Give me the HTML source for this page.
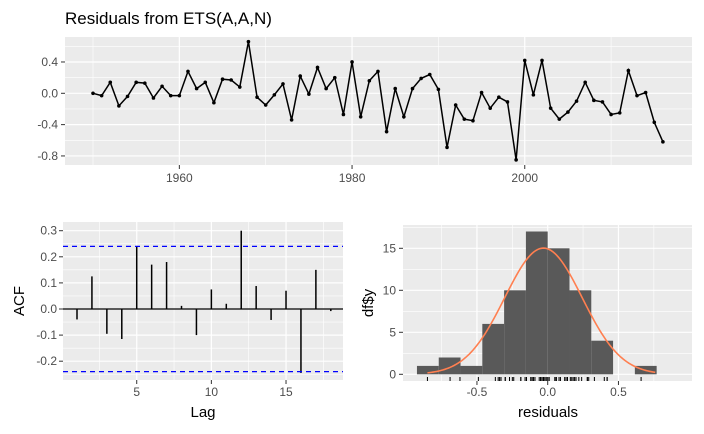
<!DOCTYPE html>
<html><head><meta charset="utf-8"><style>
html,body{margin:0;padding:0;background:#fff;}
svg{display:block;font-family:"Liberation Sans",sans-serif;}
</style></head><body>
<svg id="chart" width="704" height="434" viewBox="0 0 704 434">
<text x="65" y="24" font-size="17" fill="#000">Residuals from ETS(A,A,N)</text>
</svg>
<script>
const years = [];
for (let y = 1950; y <= 2016; y++) years.push(y);
const residuals = [0.0,-0.03,0.14,-0.16,-0.04,0.14,0.13,-0.06,0.09,-0.03,-0.03,0.28,0.06,0.14,-0.12,0.18,0.17,0.08,0.66,-0.05,-0.15,-0.02,0.12,-0.34,0.22,-0.01,0.33,0.06,0.20,-0.27,0.40,-0.30,0.16,0.28,-0.49,0.06,-0.30,0.06,0.19,0.24,0.05,-0.69,-0.15,-0.33,-0.35,0.01,-0.19,-0.05,-0.11,-0.85,0.42,-0.02,0.42,-0.19,-0.33,-0.24,-0.10,0.14,-0.09,-0.11,-0.27,-0.25,0.29,-0.03,0.01,-0.37,-0.62];
const topYTicks = [0.4,0.0,-0.4,-0.8];
const topXTicks = [1960,1980,2000];
const lags = [1,2,3,4,5,6,7,8,9,10,11,12,13,14,15,16,17,18];
const acfValues = [-0.04,0.125,-0.095,-0.115,0.24,0.17,0.18,0.012,-0.10,0.075,0.02,0.30,0.088,-0.042,0.07,-0.245,0.15,-0.008];
const acfCI = [0.24];
const acfYTicks = [0.3,0.2,0.1,0.0,-0.1,-0.2];
const acfXTicks = [5,10,15];
const binEdges = [-0.924,-0.770,-0.616,-0.462,-0.308,-0.154,0,0.154,0.308,0.462,0.616,0.770];
const binCounts = [1,2,1,6,10,17,15,10,4,0,1];
const normalParams = [-0.03,0.274];
const histYTicks = [0,5,10,15];
const histXTicks = [-0.5,0.0,0.5];

const svg = document.getElementById('chart');
const NS = 'http://www.w3.org/2000/svg';
function mk(tag, attrs, parent){
  const e = document.createElementNS(NS, tag);
  for (const k in attrs) e.setAttribute(k, attrs[k]);
  (parent||svg).appendChild(e);
  return e;
}
function txt(s, x, y, attrs, parent){
  const e = mk('text', Object.assign({x:x,y:y}, attrs), parent);
  e.textContent = s;
  return e;
}
const TICKC = '#4d4d4d';

// ---------- top panel ----------
const tX = y => 93 + (y - 1950) * 8.635;
const tY = v => 93.3 - v * 78.3;
const topPanel = mk('g', {});


mk('rect', {x:65,y:37,width:627,height:128,fill:'#ebebeb'}, topPanel);
[0.6,0.2,-0.2,-0.6].forEach(v => mk('line',{x1:65,x2:692,y1:tY(v),y2:tY(v),stroke:'#fff','stroke-width':0.6},topPanel));
[1950,1970,1990,2010].forEach(v => mk('line',{x1:tX(v),x2:tX(v),y1:37,y2:165,stroke:'#fff','stroke-width':0.6},topPanel));
topYTicks.forEach(v => {
  mk('line',{x1:65,x2:692,y1:tY(v),y2:tY(v),stroke:'#fff','stroke-width':1.2},topPanel);
  mk('line',{x1:61,x2:65,y1:tY(v),y2:tY(v),stroke:'#333'},topPanel);
  const t = txt(v.toFixed(1), 58, tY(v)+4, {'font-size':12,fill:TICKC,'text-anchor':'end'}, topPanel);
  
  
});
topXTicks.forEach(v => {
  mk('line',{x1:tX(v),x2:tX(v),y1:37,y2:165,stroke:'#fff','stroke-width':1.2},topPanel);
  mk('line',{x1:tX(v),x2:tX(v),y1:165,y2:169,stroke:'#333'},topPanel);
  const t = txt(String(v), tX(v), 182, {'font-size':12,fill:TICKC,'text-anchor':'middle'}, topPanel);
  
  
});
const resLine = mk('polyline',{points:residuals.map((r,i)=>tX(years[i])+','+tY(r)).join(' '),fill:'none',stroke:'#000','stroke-width':1.5},topPanel);


residuals.forEach((r,i) => {
  const c = mk('circle',{cx:tX(years[i]),cy:tY(r),r:1.8,fill:'#000'},topPanel);
  
  
});

// ---------- ACF panel ----------
const aX = l => 77 + (l - 1) * 14.93;
const aY = v => 309 - v * 261;
const acfPanel = mk('g', {});


mk('rect',{x:63,y:222,width:280,height:158,fill:'#ebebeb'},acfPanel);
[0.25,0.15,0.05,-0.05,-0.15,-0.25].forEach(v => mk('line',{x1:63,x2:343,y1:aY(v),y2:aY(v),stroke:'#fff','stroke-width':0.6},acfPanel));
[2.5,7.5,12.5,17.5].forEach(v => mk('line',{x1:aX(v),x2:aX(v),y1:222,y2:380,stroke:'#fff','stroke-width':0.6},acfPanel));
acfYTicks.forEach(v => {
  mk('line',{x1:63,x2:343,y1:aY(v),y2:aY(v),stroke:'#fff','stroke-width':1.2},acfPanel);
  mk('line',{x1:59,x2:63,y1:aY(v),y2:aY(v),stroke:'#333'},acfPanel);
  const t = txt(v.toFixed(1), 57, aY(v)+4, {'font-size':12,fill:TICKC,'text-anchor':'end'}, acfPanel);
  
  
});
acfXTicks.forEach(v => {
  mk('line',{x1:aX(v),x2:aX(v),y1:222,y2:380,stroke:'#fff','stroke-width':1.2},acfPanel);
  mk('line',{x1:aX(v),x2:aX(v),y1:380,y2:384,stroke:'#333'},acfPanel);
  const t = txt(String(v), aX(v), 396, {'font-size':12,fill:TICKC,'text-anchor':'middle'}, acfPanel);
  
  
});
mk('line',{x1:63,x2:343,y1:aY(0),y2:aY(0),stroke:'#000','stroke-width':1.2},acfPanel);
acfValues.forEach((v,i) => {
  const b = mk('line',{x1:aX(lags[i]),x2:aX(lags[i]),y1:aY(0),y2:aY(v),stroke:'#000','stroke-width':1.5},acfPanel);
  
  
});
[acfCI[0], -acfCI[0]].forEach(v => {
  const l = mk('line',{x1:63,x2:343,y1:aY(v),y2:aY(v),stroke:'#0000ff','stroke-width':1.2,'stroke-dasharray':'5,4'},acfPanel);
  
  
});
let t1 = txt('Lag', 203, 417, {'font-size':15,fill:'#000','text-anchor':'middle'}, acfPanel);


t1 = txt('ACF', 0, 0, {'font-size':15,fill:'#000','text-anchor':'middle',transform:'translate(24,301) rotate(-90)'}, acfPanel);



// ---------- histogram panel ----------
const hX = v => 547.7 + v * 141.5;
const hY = c => 374.3 - c * 8.4;
const histPanel = mk('g', {});


mk('rect',{x:403,y:225,width:289,height:156,fill:'#ebebeb'},histPanel);
[2.5,7.5,12.5,17.5].forEach(v => mk('line',{x1:403,x2:692,y1:hY(v),y2:hY(v),stroke:'#fff','stroke-width':0.6},histPanel));
[-0.75,-0.25,0.25,0.75].forEach(v => mk('line',{x1:hX(v),x2:hX(v),y1:225,y2:381,stroke:'#fff','stroke-width':0.6},histPanel));
histYTicks.forEach(v => {
  mk('line',{x1:403,x2:692,y1:hY(v),y2:hY(v),stroke:'#fff','stroke-width':1.2},histPanel);
  mk('line',{x1:399,x2:403,y1:hY(v),y2:hY(v),stroke:'#333'},histPanel);
  const t = txt(String(v), 396, hY(v)+4, {'font-size':12,fill:TICKC,'text-anchor':'end'}, histPanel);
  
  
});
histXTicks.forEach(v => {
  mk('line',{x1:hX(v),x2:hX(v),y1:225,y2:381,stroke:'#fff','stroke-width':1.2},histPanel);
  mk('line',{x1:hX(v),x2:hX(v),y1:381,y2:385,stroke:'#333'},histPanel);
  const t = txt(v.toFixed(1), hX(v), 396, {'font-size':12,fill:TICKC,'text-anchor':'middle'}, histPanel);
  
  
});
binCounts.forEach((c,i) => {
  if (c <= 0) return;
  const x0 = hX(binEdges[i]), x1 = hX(binEdges[i+1]);
  const r = mk('rect',{x:x0,y:hY(c),width:x1-x0,height:hY(0)-hY(c),fill:'#595959'},histPanel);
  
  
});
residuals.forEach(r => {
  const l = mk('line',{x1:hX(r),x2:hX(r),y1:377,y2:381,stroke:'#000','stroke-width':1},histPanel);
  
  
});
const mu = normalParams[0], sd = normalParams[1];
const nObs = residuals.length, binW = binEdges[1] - binEdges[0];
const lo = Math.min(...residuals), hi = Math.max(...residuals) + 0.1;
const pts = [];
for (let k = 0; k <= 120; k++) {
  const x = lo + (hi - lo) * k / 120;
  const d = nObs * binW * Math.exp(-0.5 * Math.pow((x - mu) / sd, 2)) / (sd * Math.sqrt(2 * Math.PI));
  pts.push(hX(x) + ',' + hY(d));
}
const curve = mk('polyline',{points:pts.join(' '),fill:'none',stroke:'#ff7f50','stroke-width':1.6},histPanel);


let t2 = txt('residuals', 548, 417, {'font-size':15,fill:'#000','text-anchor':'middle'}, histPanel);


t2 = txt('df$y', 0, 0, {'font-size':15,fill:'#000','text-anchor':'middle',transform:'translate(373,303) rotate(-90)'}, histPanel);


</script>
</body></html>
